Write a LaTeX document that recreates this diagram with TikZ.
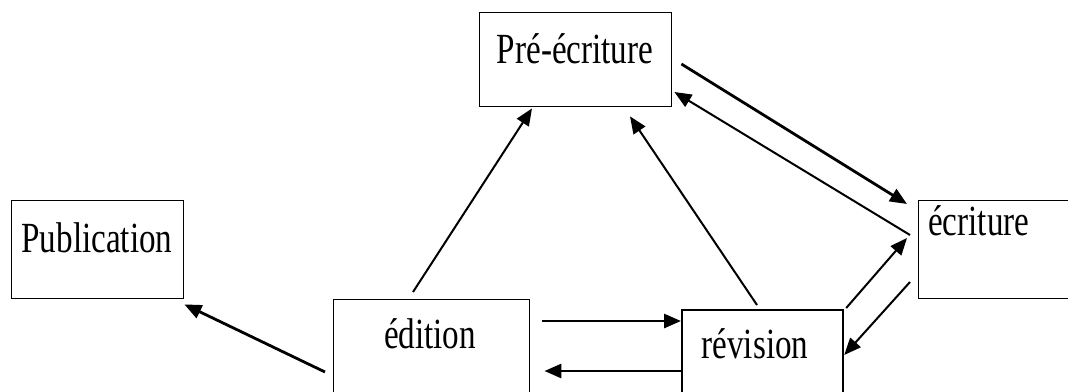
\documentclass[tikz,border=0pt]{standalone}
\usepackage{fontspec}
\setmainfont{Liberation Serif}
\usetikzlibrary{arrows.meta}
\newcommand{\sqz}[1]{\scalebox{0.77}[1]{#1}}
\tikzset{
  box/.style={draw, line width=1.4pt, rectangle, inner sep=0pt, anchor=north west},
  lbl/.style={inner sep=0pt, anchor=base, font=\fontsize{43}{43}\selectfont},
  arr/.style={line width=2pt, -{Triangle[length=17pt,width=14pt]}},
  tarr/.style={line width=2.8pt, -{Triangle[length=17pt,width=14pt]}}
}
\begin{document}
\begin{tikzpicture}[x=1pt,y=-1pt]
\useasboundingbox (0,0) rectangle (1068,391);
\clip (0,0) rectangle (1068,391);
\fill[white] (0,0) rectangle (1068,391);
% boxes
\node[box, minimum width=192pt, minimum height=94pt] (pre) at (479,12) {};
\node[box, minimum width=172pt, minimum height=98pt] (pub) at (11,200) {};
\node[box, minimum width=196pt, minimum height=130pt] (edi) at (333,299) {};
\node[box, line width=2.2pt, minimum width=161pt, minimum height=130pt] (rev) at (681,309) {};
\node[box, minimum width=170pt, minimum height=98pt] (ecr) at (918,200) {};
% labels
\node[lbl] (tpre) at (575,63) {\sqz{Pré-écriture}};
\node[lbl] (tpub) at (97,252) {\sqz{Publication}};
\node[lbl] (tedi) at (430,348) {\sqz{édition}};
\node[lbl] (trev) at (755,358) {\sqz{révision}};
\node[lbl, anchor=base west] (tecr) at (928,235) {\sqz{écriture}};
% connectors
\draw[arr] ([shift={(80,-7)}]edi.north west) -- ([shift={(53,1)}]pre.south west);
\draw[arr] ([shift={(76,-4)}]rev.north west) -- ([shift={(151,9)}]pre.south west);
\draw[tarr] ([shift={(9,52)}]pre.north east) -- ([shift={(-11,4)}]ecr.north west);
\draw[arr] ([shift={(-8,35)}]ecr.north west) -- ([shift={(2,80)}]pre.north east);
\draw[arr] ([shift={(2,-1)}]rev.north east) -- ([shift={(-11,38)}]ecr.north west);
\draw[arr] ([shift={(-8,82)}]ecr.north west) -- ([shift={(0,46)}]rev.north east);
\draw[tarr] ([shift={(12,22)}]edi.north east) -- ([shift={(0,12)}]rev.north west);
\draw[tarr] ([shift={(0,62)}]rev.north west) -- ([shift={(14,72)}]edi.north east);
\draw[tarr] ([shift={(-8,73)}]edi.north west) -- ([shift={(0,5)}]pub.south east);
\end{tikzpicture}
\end{document}
